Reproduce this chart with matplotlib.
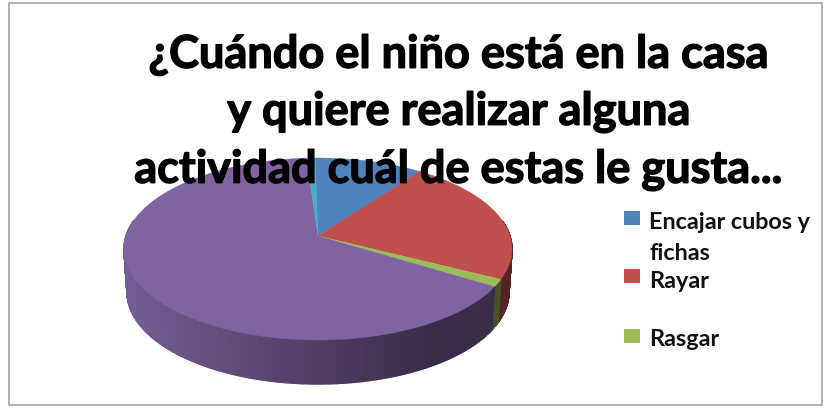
import numpy as np
import matplotlib
matplotlib.use("Agg")
import matplotlib.pyplot as plt
import matplotlib.patheffects as pe
from matplotlib.patches import Rectangle

plt.rcParams['font.family'] = ['Lato', 'DejaVu Sans']

title_lines = ["¿Cuándo el niño está en la casa", "y quiere realizar alguna",
               "actividad cuál de estas le gusta..."]
legend_labels = ["Encajar cubos y\nfichas", "Rayar", "Rasgar"]
# percentages, clockwise from the top
values = [10.3, 22.5, 1.3, 65.1, 0.8]
colors = ['#4F81BD', '#C0504D', '#9BBB59', '#8064A2', '#4BACC6']
start_deg = -1.0

W, H = 826, 410
cx, cy, rx, ry = 318, 250, 194, 91
bx, by, brx, bry = 318, 293, 191, 92
e = 0.143  # pulls the apex up, the pie is seen in perspective


def rim(theta, x0, y0, a, b):
    # theta in degrees clockwise from top, projective map of the unit disc
    t = np.deg2rad(theta)
    u, s = np.sin(t), np.cos(t)
    d = 1 + e * s
    return x0 + a * u * np.sqrt(1 - e ** 2) / d, y0 - b * (s + e) / d


def shade(col, x):
    f = np.interp(x, [124, 200, 320, 430, 512], [0.92, 0.8, 0.62, 0.44, 0.45])
    return tuple(np.array(matplotlib.colors.to_rgb(col)) * f)


fig = plt.figure(figsize=(W / 100, H / 100), dpi=100)
ax = fig.add_axes([0, 0, 1, 1])
ax.set_xlim(0, W)
ax.set_ylim(H, 0)
ax.axis('off')

ax.add_patch(Rectangle((8.5, 3.5), 813, 402, fc='white', ec='#A6A6A6', lw=1.2))

edges = start_deg + np.cumsum([0] + values) * 3.6

# side wall, only the part facing us
for i, col in enumerate(colors):
    th = np.arange(edges[i], edges[i + 1] + 0.5, 0.5)
    for a, b in zip(th[:-1], th[1:]):
        if (a % 360) < 80 or (a % 360) > 280:
            continue
        xt, yt = rim(np.array([a, b]), cx, cy, rx, ry)
        xb, yb = rim(np.array([a, b]), bx, by, brx, bry)
        c = shade(col, xt.mean())
        ax.fill([xt[0], xt[1], xb[1], xb[0]], [yt[0], yt[1], yb[1], yb[0]],
                fc=c, ec=c, lw=1.0, zorder=2)

# top face
for i, col in enumerate(colors):
    th = np.linspace(edges[i], edges[i + 1], 200)
    xs, ys = rim(th, cx, cy, rx, ry)
    ax.fill(np.r_[cx, xs], np.r_[cy - e * ry, ys], fc=col, ec=col, lw=0.3, zorder=3)

title_y = [56, 113, 171]
heavy = [pe.withStroke(linewidth=1.0, foreground='black')]
for line, y in zip(title_lines, title_y):
    ax.text(459, y, line, ha='center', va='center', fontsize=32.5, fontweight='bold',
            color='black', zorder=5, path_effects=heavy)

handle_y = [219, 277, 337]
label_y = [223, 282, 340]
for lab, hy, ly, col in zip(legend_labels, handle_y, label_y, colors):
    ax.add_patch(Rectangle((624, hy - 7), 16, 14, fc=col, ec='none', zorder=4))
    first = lab.split("\n")
    for k, part in enumerate(first):
        ax.text(649, ly + 31 * k, part, ha='left', va='center', fontsize=16.8,
                fontweight='bold', color='#111111', zorder=5)

fig.savefig('out.png', dpi=100)
